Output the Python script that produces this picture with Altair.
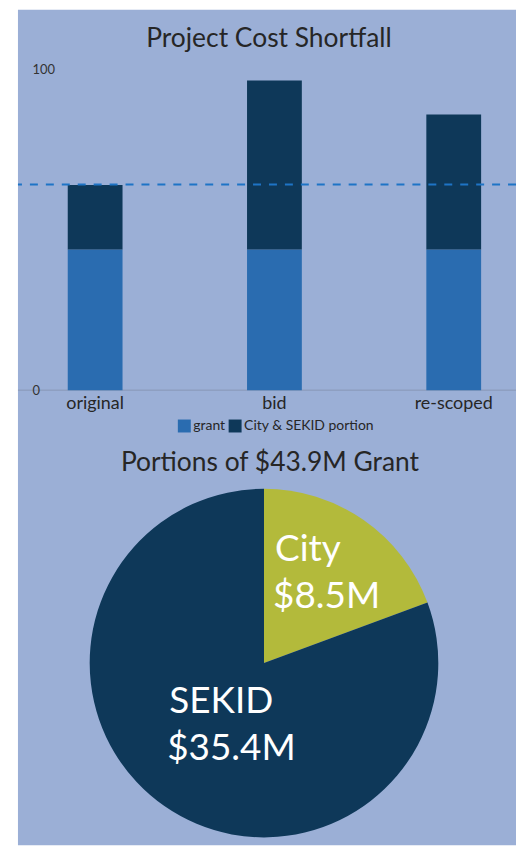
import altair as alt
import pandas as pd

# ---- data ----
categories = ["original", "bid", "re-scoped"]
grant = [43.9, 43.9, 43.9]
local_portion = [20.1, 52.7, 42.1]
series_names = ["grant", "City & SEKID portion"]
threshold = [64.2]
y_ticks = [0, 100]

pie_names = ["City", "SEKID"]
pie_values = [8.5, 35.4]
pie_line1 = ["City", "SEKID"]
pie_line2 = ["$8.5M", "$35.4M"]

titles = ["Project Cost Shortfall", "Portions of $43.9M Grant"]

# ---- style ----
BG = "#9BAFD6"
GRANT = "#2A6CB0"
DARK = "#0E3859"
CITY = "#B3BA3B"
TXT = "#262626"
FONT = "Lato"

W = 500
H1 = 437
H2 = 402

rows = []
for c, g, p in zip(categories, grant, local_portion):
    rows.append({"cat": c, "series": series_names[0], "value": g, "ord": 0})
    rows.append({"cat": c, "series": series_names[1], "value": p, "ord": 1})
bars_df = pd.DataFrame(rows)

yscale = alt.Scale(domain=[0, 100], range=[382, 60.3])
y_axis = alt.Axis(values=y_ticks, title=None, orient="left", offset=-14,
                  domain=False, ticks=False, tickSize=0, grid=False,
                  labelAlign="left", labelPadding=0, labelFontSize=13,
                  labelColor="#333333", labelFont=FONT, zindex=2)

bg1 = alt.Chart(pd.DataFrame({"k": [0]})).mark_rect(color=BG).encode(
    x=alt.value(0), x2=alt.value(W), y=alt.value(0), y2=alt.value(H1))

bars = alt.Chart(bars_df).mark_bar().encode(
    x=alt.X("cat:N", sort=categories,
            scale=alt.Scale(paddingInner=0.6944, paddingOuter=0.2361, align=0.588),
            axis=alt.Axis(title=None, orient="bottom", offset=-55, domain=False,
                          ticks=False, labelPadding=4, labelFontSize=18,
                          labelColor=TXT, labelFont=FONT, labelAngle=0, zindex=2)),
    y=alt.Y("value:Q", stack="zero", scale=yscale, axis=y_axis),
    color=alt.Color("series:N",
                    scale=alt.Scale(domain=series_names, range=[GRANT, DARK]),
                    legend=alt.Legend(orient="none", legendX=160, legendY=411,
                                      direction="horizontal", title=None,
                                      symbolType="square", symbolSize=169,
                                      symbolStrokeWidth=0, labelFontSize=14,
                                      labelFont=FONT, labelColor=TXT,
                                      columnPadding=3, labelOffset=2, padding=0)),
    order=alt.Order("ord:Q"),
)

base_line = alt.Chart(pd.DataFrame({"value": [0]})).mark_rule(
    color="#8796B5", strokeWidth=1
).encode(y=alt.Y("value:Q", scale=yscale, axis=y_axis))

dash_line = alt.Chart(pd.DataFrame({"value": threshold})).mark_rule(
    color="#1E74C6", strokeWidth=2, strokeDash=[8, 8]
).encode(y=alt.Y("value:Q", scale=yscale, axis=y_axis))

title1 = alt.Chart(pd.DataFrame({"t": [titles[0]]})).mark_text(
    x=252, y=30, fontSize=26.5, font=FONT, color=TXT, align="center", baseline="middle"
).encode(text="t:N")

top = alt.layer(bg1, base_line, bars, dash_line, title1).properties(width=W, height=H1)

# ---- pie ----
pie_df = pd.DataFrame({"name": pie_names, "value": pie_values, "ord": [0, 1],
                       "l1": pie_line1, "l2": pie_line2})
CX, CY = 247, 219

bg2 = alt.Chart(pd.DataFrame({"k": [0]})).mark_rect(color=BG).encode(
    x=alt.value(0), x2=alt.value(W), y=alt.value(0), y2=alt.value(H2))

pie_base = alt.Chart(pie_df).encode(
    theta=alt.Theta("value:Q", stack=True),
    order=alt.Order("ord:Q"),
)
arc = pie_base.mark_arc(x=CX, y=CY, outerRadius=175).encode(
    color=alt.Color("name:N", scale=alt.Scale(domain=pie_names, range=[CITY, DARK]),
                    legend=None)
)
lab1 = pie_base.mark_text(x=CX, y=CY, radius=93, dx=-42, dy=-37, align="left",
                          baseline="middle", fontSize=37, font=FONT,
                          color="white").encode(text="l1:N")
lab2 = pie_base.mark_text(x=CX, y=CY, radius=93, dx=-44, dy=10, align="left",
                          baseline="middle", fontSize=37, font=FONT,
                          color="white").encode(text="l2:N")

title2 = alt.Chart(pd.DataFrame({"t": [titles[1]]})).mark_text(
    x=253, y=18, fontSize=26.5, font=FONT, color=TXT, align="center", baseline="middle"
).encode(text="t:N")

bottom = alt.layer(bg2, arc, lab1, lab2, title2).properties(width=W, height=H2)

chart = alt.vconcat(top, bottom, spacing=0).properties(
    padding={"left": 9, "top": 0, "right": 0, "bottom": 0},
    background="white",
).configure_view(stroke=None).resolve_scale(color="independent")

chart.save("out.html", embed_options={"renderer": "svg", "actions": False})
